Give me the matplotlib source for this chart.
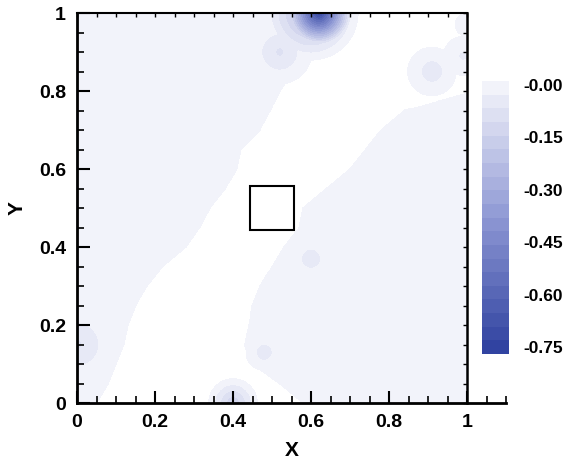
import matplotlib.pyplot as plt
import numpy as np
from matplotlib.colors import LinearSegmentedColormap
from matplotlib.patches import Rectangle
from matplotlib.ticker import MultipleLocator

plt.rcParams['font.family'] = ['Liberation Sans', 'DejaVu Sans']
plt.rcParams['font.weight'] = 'bold'

# rows of the field (y), read every 0.05
row_y = [0.00, 0.05, 0.10, 0.15, 0.20, 0.25, 0.30, 0.35, 0.40, 0.45, 0.50,
         0.55, 0.60, 0.65, 0.70, 0.75, 0.80, 0.85, 0.90, 0.95, 1.00]
# x where the upper-left light region ends
left_edge = [0.05, 0.08, 0.10, 0.12, 0.13, 0.15, 0.18, 0.22, 0.28, 0.315, 0.34,
             0.38, 0.41, 0.42, 0.47, 0.495, 0.52, 0.555, 0.59, 0.64, 0.72]
# x where the lower-right light region starts
right_edge = [0.58, 0.52, 0.45, 0.43, 0.44, 0.45, 0.47, 0.50, 0.53, 0.57, 0.58,
              0.64, 0.70, 0.74, 0.78, 0.84, 1.02, 2.0, 2.0, 2.0, 2.0]

# local minima: centre x, centre y, value, radius
blob_x = [0.62, 0.60, 0.52, 0.60, 0.40, 0.48, 0.00, 0.91, 0.99, 1.00, 0.87]
blob_y = [1.00, 1.00, 0.90, 0.37, 0.00, 0.13, 0.15, 0.85, 0.89, 0.97, 0.70]
blob_v = [-0.75, -0.25, -0.08, -0.07, -0.15, -0.06, -0.08, -0.06, -0.04, -0.02, -0.035]
blob_r = [0.09, 0.13, 0.10, 0.06, 0.07, 0.06, 0.12, 0.08, 0.07, 0.05, 0.012]

levels = np.linspace(-0.77, 0.01, 21)
cbar_ticks = [0.0, -0.15, -0.30, -0.45, -0.60, -0.75]
cbar_labels = ['-0.00', '-0.15', '-0.30', '-0.45', '-0.60', '-0.75']

# build the field on a grid
gx = np.linspace(0, 1, 401)
gy = np.linspace(0, 1, 401)
X, Y = np.meshgrid(gx, gy)
xl = np.interp(Y, row_y, left_edge)
xr = np.interp(Y, row_y, right_edge)
Z = np.where((X <= xl) | (X >= xr), -0.015, 0.03)
for bx, by, bv, br in zip(blob_x, blob_y, blob_v, blob_r):
    r = np.hypot(X - bx, Y - by)
    Z = np.minimum(Z, np.minimum(0.03, bv + (0.03 - bv) * r / br))

cmap = LinearSegmentedColormap.from_list('tec', ['#2c3f9e', '#8e98d4', '#f7f7fc'])

fig = plt.figure(figsize=(5.65, 4.61), dpi=100)
ax = fig.add_axes([0.1363, 0.1258, 0.7593, 0.846])
cs = ax.contourf(X, Y, Z, levels=levels, cmap=cmap)

# square obstacle
ax.add_patch(Rectangle((0.444, 0.444), 0.112, 0.112, facecolor='white',
                       edgecolor='black', linewidth=1.5, zorder=3))

ax.set_xlim(0, 1.1)
ax.set_ylim(0, 1)
ax.spines['top'].set_visible(False)
ax.spines['right'].set_visible(False)
ax.spines['left'].set_linewidth(2)
ax.spines['bottom'].set_linewidth(2)
ax.set_xticks([0, 0.2, 0.4, 0.6, 0.8, 1.0])
ax.set_xticklabels(['0', '0.2', '0.4', '0.6', '0.8', '1'])
ax.set_yticks([0, 0.2, 0.4, 0.6, 0.8, 1.0])
ax.set_yticklabels(['0', '0.2', '0.4', '0.6', '0.8', '1'])
ax.xaxis.set_minor_locator(MultipleLocator(0.05))
ax.yaxis.set_minor_locator(MultipleLocator(0.05))
ax.tick_params(which='major', direction='in', length=9, width=1.5, labelsize=14, pad=8)
ax.tick_params(which='minor', direction='in', length=5, width=1.2)
ax.set_xlabel('X', fontsize=15, fontweight='bold', labelpad=7)
ax.set_ylabel('Y', fontsize=15, fontweight='bold', labelpad=9)

# top and right frame of the 0..1 box
box = ax.inset_axes([0, 0, 1 / 1.1, 1])
box.set_xlim(0, 1)
box.set_ylim(0, 1)
box.patch.set_visible(False)
box.spines['left'].set_visible(False)
box.spines['bottom'].set_visible(False)
box.spines['top'].set_linewidth(1.5)
box.spines['right'].set_linewidth(1.8)
box.xaxis.set_major_locator(MultipleLocator(0.05))
box.yaxis.set_major_locator(MultipleLocator(0.05))
box.tick_params(which='both', direction='in', length=3, width=1, bottom=False, left=False,
                top=True, right=True, labelbottom=False, labelleft=False)

# colour bar
cax = fig.add_axes([0.853, 0.232, 0.048, 0.592])
cb = fig.colorbar(cs, cax=cax)
cb.outline.set_visible(False)
cb.set_ticks(cbar_ticks)
cb.set_ticklabels(cbar_labels)
cax.tick_params(length=0, labelsize=12.5, pad=10)

plt.savefig('out.png', dpi=100)
